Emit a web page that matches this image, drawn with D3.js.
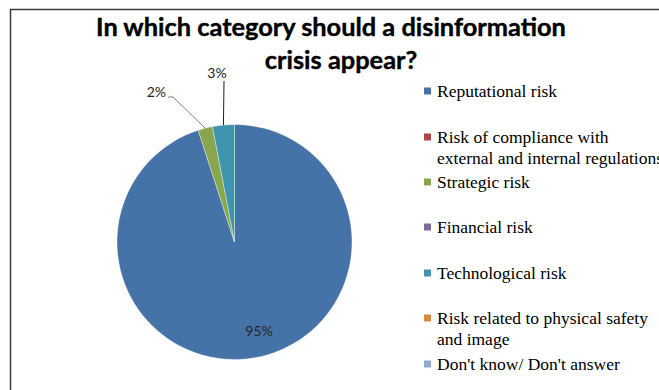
<!DOCTYPE html>
<html>
<head>
<meta charset="utf-8">
<script src="https://cdn.jsdelivr.net/npm/d3@7"></script>
</head>
<body style="margin:0; background:#fff; overflow:hidden">
<svg id="chart" width="659" height="390" style="display:block"></svg>
<script>
// Survey answers: share of respondents per category (percent)
const categories = [
  "Reputational risk",
  "Risk of compliance with\nexternal and internal regulations",
  "Strategic risk",
  "Financial risk",
  "Technological risk",
  "Risk related to physical safety\nand image",
  "Don't know/ Don't answer"
];
const values = [95, 0, 2, 0, 3, 0, 0];
const colors = ["#4572A7", "#AA4643", "#89A54E", "#80699B", "#3D96AE", "#DB843D", "#92A8CD"];
const titleLines = ["In which category should a disinformation", "crisis appear?"];

const svg = d3.select("#chart");

// Chart frame (extends past the right and bottom edges)
svg.append("rect")
  .attr("x", 10.5).attr("y", 9.5)
  .attr("width", 700).attr("height", 420)
  .attr("fill", "#fff")
  .attr("stroke", "#3a3a3a")
  .attr("stroke-width", 1.5);

// Title
const title = svg.append("text")
  .attr("text-anchor", "middle")
  .attr("font-family", "Lato")
  .attr("font-weight", "bold")
  .attr("fill", "#000")
  .attr("stroke", "#000")
  .attr("stroke-width", 0.4);
title.selectAll("tspan").data(titleLines).join("tspan")
  .attr("x", (d, i) => i === 0 ? 331 : 341)
  .attr("y", (d, i) => 36 + i * 32.5)
  .text(d => d);
title.attr("font-size", 100);
const w0 = title.select("tspan").node().getComputedTextLength();
title.attr("font-size", 100 * 470 / w0);

// Pie
const cx = 234.5, cy = 242, r = 117.5;
const pie = d3.pie().sort(null).value(d => d.value);
const arcs = pie(values.map((v, i) => ({ value: v, name: categories[i], i })));
const arc = d3.arc().innerRadius(0).outerRadius(r);
const g = svg.append("g").attr("transform", `translate(${cx},${cy})`);
g.selectAll("path").data(arcs.filter(a => a.data.value > 0)).join("path")
  .attr("d", arc)
  .attr("fill", d => colors[d.data.i])
  .attr("stroke", "#ffffff")
  .attr("stroke-opacity", 0.6)
  .attr("stroke-width", 0.6);

// Data labels
const edge = d3.arc().innerRadius(r).outerRadius(r);
const labelSpec = {
  0: { x: 259, y: 336, anchor: "middle" },
  2: { x: 166, y: 97, anchor: "end", leader: [[168, 97], [173, 97]], stroke: "#7f7f7f" },
  4: { x: 217, y: 78, anchor: "middle", leader: [[224, 81]], stroke: "#1f1f1f" }
};
arcs.forEach(a => {
  const spec = labelSpec[a.data.i];
  if (!spec) return;
  if (spec.leader) {
    const [ex, ey] = edge.centroid(a);
    const pts = spec.leader.concat([[cx + ex, cy + ey]]);
    svg.append("path")
      .attr("d", d3.line()(pts))
      .attr("fill", "none")
      .attr("stroke", spec.stroke)
      .attr("stroke-width", 1);
  }
  svg.append("text")
    .attr("x", spec.x).attr("y", spec.y)
    .attr("text-anchor", spec.anchor)
    .attr("font-family", "Lato")
    .attr("font-size", 14)
    .attr("fill", "#262626")
    .text(Math.round(a.data.value) + "%");
});

// Legend
const legendY = [91, 137, 182, 227, 273, 318, 364];
const lg = svg.append("g");
categories.forEach((name, i) => {
  lg.append("rect")
    .attr("x", 424).attr("y", legendY[i] - 3.5)
    .attr("width", 7).attr("height", 7)
    .attr("fill", colors[i]);
  const t = lg.append("text")
    .attr("font-family", "Liberation Serif")
    .attr("font-size", 17.5)
    .attr("fill", "#000");
  name.split("\n").forEach((line, j) => {
    t.append("tspan")
      .attr("x", 437)
      .attr("y", legendY[i] + 5.5 + j * 21)
      .text(line);
  });
});
</script>
</body>
</html>
